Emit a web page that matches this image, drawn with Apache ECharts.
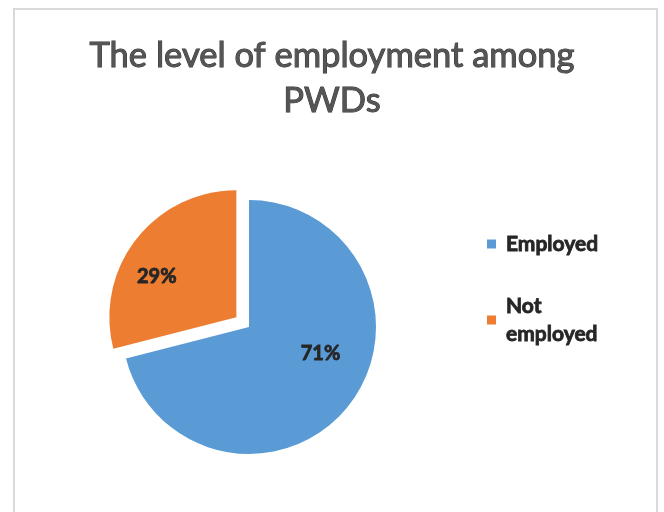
<!DOCTYPE html>
<html>
<head>
<meta charset="utf-8">
<script src="https://cdn.jsdelivr.net/npm/echarts@6/dist/echarts.min.js"></script>
<style>
  html, body { margin: 0; padding: 0; background: #ffffff; }
  #frame { position: absolute; left: 13px; top: 8px; width: 641px; height: 520px; border: 2px solid #d9d9d9; }
  #chart { position: absolute; left: 0; top: 0; width: 664px; height: 512px; }
</style>
</head>
<body>
<div id="frame"></div>
<div id="chart"></div>
<script>
// Employment status of persons with disabilities (share of respondents, %)
const titleText = 'The level of employment among\nPWDs';
const categories = ['Employed', 'Not employed'];
const shares = [71, 29];
const colors = ['#5b9bd5', '#ed7d31'];

const labelFont = {
  fontFamily: 'Lato',
  fontWeight: 'bold',
  fontSize: 20,
  color: '#262626',
  textBorderColor: '#262626',
  textBorderWidth: 0.8
};
const legendFont = Object.assign({}, labelFont, { fontSize: 21 });
// nudges for the in-slice percentage labels
const labelOffsets = [[19, -14], [-27, 0]];

const chart = echarts.init(document.getElementById('chart'), null, { renderer: 'canvas' });

chart.setOption({
  backgroundColor: 'transparent',
  animation: false,
  title: {
    text: titleText,
    left: 'center',
    top: 28,
    textStyle: {
      fontFamily: 'Lato',
      fontWeight: 'normal',
      fontSize: 34.5,
      lineHeight: 45,
      color: '#555555',
      textBorderColor: '#333333',
      textBorderWidth: 1
    }
  },
  legend: [
    {
      orient: 'vertical',
      left: 482,
      top: 226,
      icon: 'rect',
      itemWidth: 9,
      itemHeight: 9,
      data: [categories[0]],
      textStyle: Object.assign({}, legendFont, { lineHeight: 26, padding: [0, 0, 0, 5] })
    },
    {
      orient: 'vertical',
      left: 482,
      top: 273,
      icon: 'rect',
      itemWidth: 9,
      itemHeight: 9,
      data: [categories[1]],
      formatter: name => name.replace(' ', '\n'),
      textStyle: Object.assign({}, legendFont, { lineHeight: 28, padding: [28, 0, 0, 5] })
    }
  ],
  series: [{
    type: 'pie',
    center: [249, 327],
    radius: 127,
    startAngle: 90,
    clockwise: true,
    selectedMode: 'single',
    selectedOffset: 16,
    emphasis: { disabled: true },
    label: Object.assign({
      show: true,
      position: 'inside',
      formatter: p => p.value + '%'
    }, labelFont),
    labelLine: { show: false },
    data: categories.map((name, i) => ({
      name: name,
      value: shares[i],
      selected: i === 1,
      itemStyle: { color: colors[i] },
      label: { offset: labelOffsets[i] },
      select: {
        itemStyle: { color: colors[i] },
        label: { offset: labelOffsets[i] }
      }
    }))
  }]
});
</script>
</body>
</html>
